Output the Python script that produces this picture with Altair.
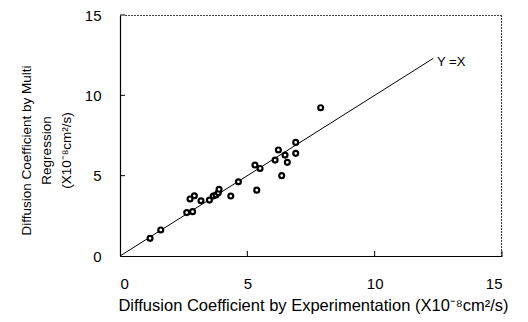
import altair as alt
import pandas as pd

# Data
exp_vals = [1.18, 1.60, 2.62, 2.85, 2.75, 2.92, 3.18, 3.51, 3.66, 3.77, 3.86, 3.89,
            4.35, 4.65, 5.37, 5.30, 5.50, 6.09, 6.22, 6.35, 6.48, 6.57, 6.90, 6.90, 7.88]
reg_vals = [1.10, 1.62, 2.70, 2.76, 3.55, 3.75, 3.44, 3.48, 3.73, 3.80, 3.94, 4.15,
            3.73, 4.62, 4.10, 5.66, 5.45, 5.97, 6.60, 5.00, 6.28, 5.83, 7.07, 6.39, 9.23]
line_x = [0, 12.3]
ticks_vals = [5, 10, 15]
frame_row = [0]
label_text = ["Y =X"]
label_pos = [12.45, 12.1]

W, H = 382, 241

pts = pd.DataFrame({"x": exp_vals, "y": reg_vals})
ln = pd.DataFrame({"x": line_x, "y": line_x})
tk = pd.DataFrame({"t": ticks_vals})
fr = pd.DataFrame({"f": frame_row})
lab = pd.DataFrame({"x": [label_pos[0]], "y": [label_pos[1]], "txt": label_text})

xs = alt.Scale(domain=[0, 15], nice=False)
ys = alt.Scale(domain=[0, 15], nice=False)

xaxis = alt.Axis(
    values=[0, 5, 10, 15], ticks=False, grid=False, domainColor="black", domainWidth=1.2,
    labelFontSize=15, labelPadding=20, labelColor="black", labelFont="Liberation Sans",
    title="Diffusion Coefficient by Experimentation (X10⁻⁸cm²/s)",
    titleFontSize=16.5, titleFontWeight="normal", titleFont="Liberation Sans",
    titlePadding=6, titleX=193, titleColor="black",
)
yaxis = alt.Axis(
    values=[0, 5, 10, 15], ticks=False, grid=False, domainColor="black", domainWidth=1.2,
    labelFontSize=15, labelPadding=19, labelColor="black", labelFont="Liberation Sans",
    title=["Diffusion Coefficient by Multi", "Regression", "(X10⁻⁸cm²/s)"],
    titleFontSize=13.5, titleFontWeight="normal", titleFont="Liberation Sans",
    titleLineHeight=20, titlePadding=11, titleY=135, titleColor="black",
)

line = alt.Chart(ln).mark_line(color="black", strokeWidth=1).encode(
    x=alt.X("x:Q", scale=xs, axis=xaxis),
    y=alt.Y("y:Q", scale=ys, axis=yaxis),
)

points = alt.Chart(pts).mark_point(
    shape="circle", filled=True, fill="white", stroke="black", strokeWidth=2.2,
    size=24, opacity=1,
).encode(x=alt.X("x:Q", scale=xs), y=alt.Y("y:Q", scale=ys))

text = alt.Chart(lab).mark_text(
    align="left", baseline="middle", fontSize=13, font="Liberation Sans", color="black"
).encode(x=alt.X("x:Q", scale=xs), y=alt.Y("y:Q", scale=ys), text="txt:N")

yticks = alt.Chart(tk).mark_rule(color="black", strokeWidth=1).encode(
    y=alt.Y("t:Q", scale=ys), x=alt.value(0), x2=alt.value(5)
)
xticks = alt.Chart(tk).mark_rule(color="black", strokeWidth=1).encode(
    x=alt.X("t:Q", scale=xs), y=alt.value(H), y2=alt.value(H - 5)
)

frame_top = alt.Chart(fr).mark_rule(color="#444", strokeWidth=1.2, strokeDash=[2, 1]).encode(
    x=alt.value(5), x2=alt.value(W), y=alt.value(0.5)
)
frame_right = alt.Chart(fr).mark_rule(color="#444", strokeWidth=1.2, strokeDash=[2, 1]).encode(
    x=alt.value(W - 0.5), y=alt.value(0), y2=alt.value(H)
)

chart = alt.layer(frame_top, frame_right, line, yticks, xticks, points, text).properties(
    width=W, height=H,
    background="white",
    autosize=alt.AutoSizeParams(type="none"),
    padding={"left": 112, "top": 7, "right": 18, "bottom": 60},
).configure_view(stroke=None)

chart.save("out.html", embed_options={"renderer": "svg", "actions": False})
